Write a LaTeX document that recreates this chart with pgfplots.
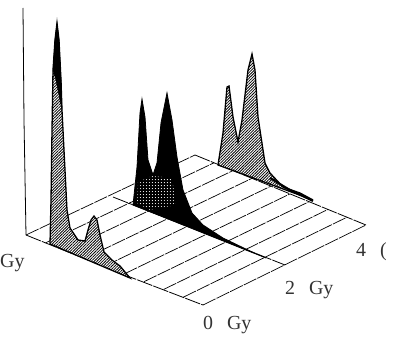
\documentclass[border=0pt]{standalone}
\usepackage{pgfplots}
\pgfplotsset{compat=1.18}
\usetikzlibrary{patterns.meta}
\usepackage{fontspec}
\setmainfont{Liberation Serif}
\tikzset{
  grainy/.style={pattern={Lines[angle=45,distance=2pt,line width=0.8pt]},pattern color=black},
  gridline/.style={black,line width=0.7pt,dash pattern=on 14pt off 1.2pt},
  lab/.style={font=\fontsize{20}{20}\selectfont,black!80,inner sep=0pt}
}
\begin{document}
\begin{tikzpicture}
\begin{axis}[
  width=406bp,height=347bp,scale only axis,hide axis,
  xmin=0,xmax=406,ymin=0,ymax=347,y dir=reverse,clip=false]
% keep the full frame in the bounding box
\path (axis cs:0,0) rectangle (axis cs:406,347);
% floor: cross lines
\addplot[gridline] coordinates {(26,235)(195,155)};
\addplot[gridline] coordinates {(45.7,242.8)(214,162.8)};
\addplot[gridline] coordinates {(65.3,250.6)(233,170.6)};
\addplot[gridline] coordinates {(85,258.3)(252,178.3)};
\addplot[gridline] coordinates {(104.7,266.1)(271,186.1)};
\addplot[gridline] coordinates {(124.3,273.9)(290,193.9)};
\addplot[gridline] coordinates {(144,281.7)(309,201.7)};
\addplot[gridline] coordinates {(163.7,289.4)(328,209.4)};
\addplot[gridline] coordinates {(183.3,297.2)(347,217.2)};
\addplot[gridline] coordinates {(203,305)(366,225)};
% dose lines
\addplot[black,line width=0.8pt] coordinates {(23,8)(24,120)(26,235)};
\addplot[black,line width=0.8pt,dash pattern=on 16pt off 1.2pt] coordinates {(26,235)(130,277)(203,305)};
\addplot[black,line width=0.8pt,dash pattern=on 16pt off 1.2pt] coordinates {(113,197)(285,265)};
\addplot[black,line width=0.8pt,dash pattern=on 16pt off 1.2pt] coordinates {(195,155)(366,225)};
% 4 Gy
\addplot[fill=white,draw=none] coordinates {(218,165)(223,133)(227,87)(229,86)(233,117)(238,142)(242,120)(248,70)(252,54)(255,70)(258,117)(265,163)(270,173)(283,187)(300,193)(313,200)} -- cycle;
\addplot[grainy,draw=black,line width=1.3pt] coordinates {(218,165)(223,133)(227,87)(229,86)(233,117)(238,142)(242,120)(248,70)(252,54)(255,70)(258,117)(265,163)(270,173)(283,187)(300,193)(313,200)} -- cycle;
\addplot[black,line width=2pt] coordinates {(270,178)(290,190)(313,201)};
% 2 Gy
\addplot[fill=black,draw=black,line width=0.8pt] coordinates {(133,205)(137,167)(140,113)(142,99)(145,117)(148,160)(153,175)(157,163)(161,123)(167,93)(172,120)(177,157)(183,190)(192,213)(203,225)(223,238)(250,251)(266,258)} -- cycle;
\addplot[pattern={Dots[distance=3pt,radius=0.55pt]},pattern color=white,draw=none] coordinates {(138,182)(152,176)(172,178)(176,205)(150,210)(137,203)} -- cycle;
% 0 Gy
\addplot[fill=white,draw=none] coordinates {(50,244)(51,200)(52,130)(53,70)(55,40)(57,23)(59,40)(61,80)(62,110)(65,170)(67,210)(70,228)(78,240)(85,241)(88,230)(91,220)(94,216)(97,220)(100,235)(104,252)(112,260)(120,266)(130,278)} -- cycle;
\addplot[grainy,draw=black,line width=1.3pt] coordinates {(50,244)(51,200)(52,130)(53,70)(55,40)(57,23)(59,40)(61,80)(62,110)(65,170)(67,210)(70,228)(78,240)(85,241)(88,230)(91,220)(94,216)(97,220)(100,235)(104,252)(112,260)(120,266)(130,278)} -- cycle;
\addplot[fill=black,draw=black,line width=0.5pt] coordinates {(53,70)(55,40)(57,23)(59,40)(61,80)(62,110)(56,80)} -- cycle;
% labels
\node[lab,anchor=west] at (axis cs:0,263) {Gy};
\node[lab,anchor=west] at (axis cs:203,325) {0\hspace{0.7em}Gy};
\node[lab,anchor=west] at (axis cs:285,290) {2\hspace{0.7em}Gy};
\node[lab,anchor=west] at (axis cs:356,252) {4\hspace{0.7em}(};
\end{axis}
\end{tikzpicture}
\end{document}
